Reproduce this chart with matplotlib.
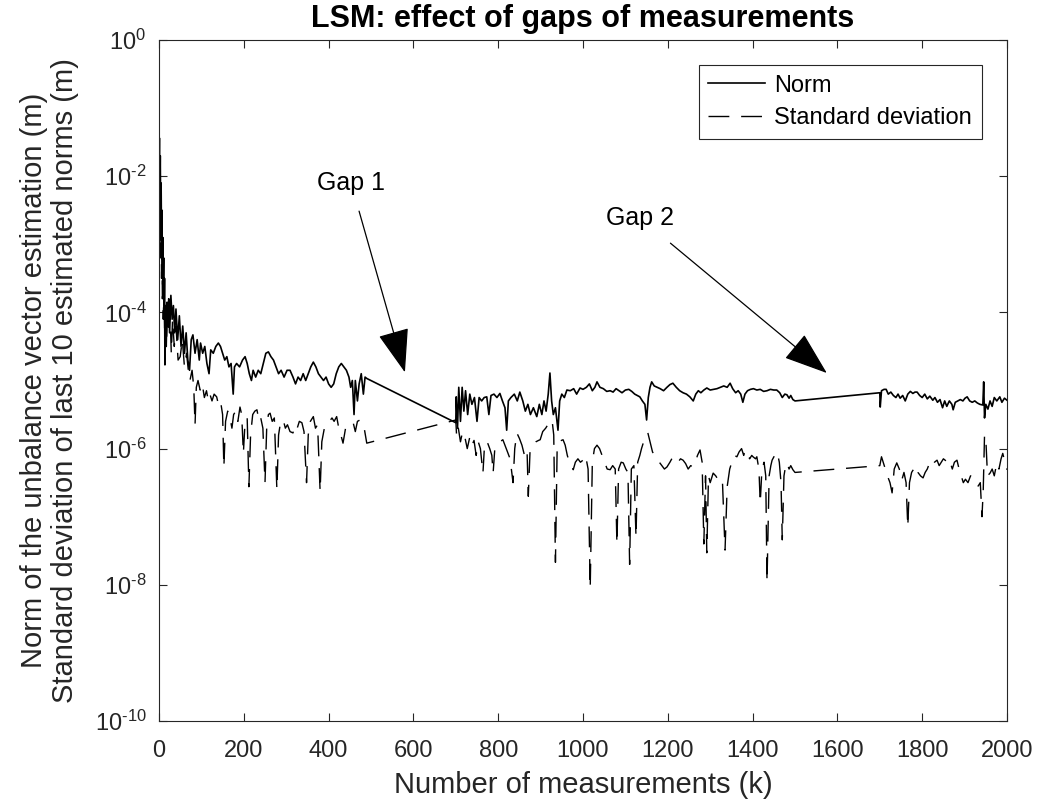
import numpy as np
import matplotlib
matplotlib.use("Agg")
import matplotlib.pyplot as plt

plt.rcParams['font.family'] = ['Liberation Sans', 'DejaVu Sans']
plt.rcParams['mathtext.fontset'] = 'custom'
plt.rcParams['mathtext.rm'] = 'Liberation Sans'
plt.rcParams['mathtext.it'] = 'Liberation Sans:italic'
plt.rcParams['mathtext.bf'] = 'Liberation Sans:bold'

###Norm of the estimated unbalance vector (log10 of metres)
norm_k = [0, 1, 2, 3, 4, 5, 6, 7, 8, 9, 10, 11, 12, 13, 14, 15, 17, 19, 21, 23, 25, 28, 31, 34, 37, 40,
          44, 48, 52, 56, 60, 64, 68, 72, 76, 80, 85, 90, 95, 98, 103, 108, 113, 118, 122, 128, 134, 140,
          145, 150, 155, 160, 165, 170, 175, 178, 183, 190, 197, 203, 208, 213, 218, 222, 228, 234, 240,
          246, 252, 258, 264, 270, 276, 282, 288, 295, 302, 309, 316, 322, 328, 334, 340, 346, 352, 358,
          364, 370, 376, 382, 388, 394, 400, 406, 412, 418, 424, 430, 436, 442, 448, 452, 456, 460, 463,
          468, 472, 477, 482, 486, 490,
          700, 701, 704, 707, 711, 715, 719, 723, 728, 733, 738, 744, 750, 755, 761, 767, 773, 778, 783,
          790, 797, 804, 810, 816, 820, 824, 830, 838, 845, 851, 858, 864, 870, 876, 883, 891, 897, 903,
          908, 913, 918, 922, 926, 930, 935, 941, 945, 950, 956, 962, 970, 978, 985, 993, 1000, 1008,
          1015, 1022, 1028, 1033, 1040, 1048, 1056, 1064, 1071, 1078, 1085, 1092, 1100, 1108, 1115, 1122,
          1128, 1134, 1140, 1146, 1150, 1154, 1158, 1162, 1168, 1175, 1182, 1190, 1198, 1205, 1212, 1220,
          1228, 1236, 1244, 1252, 1260, 1266, 1272, 1278, 1285, 1292, 1300, 1308, 1316, 1324, 1332, 1340,
          1347, 1353, 1360, 1366, 1372, 1377, 1382, 1388, 1395, 1402, 1410, 1418, 1426, 1434, 1442, 1450,
          1457, 1464, 1470, 1476, 1481, 1486, 1490, 1495, 1500,
          1700, 1701, 1704, 1710, 1715, 1720, 1726, 1732, 1738, 1743, 1748, 1754, 1760, 1766, 1772, 1778,
          1783, 1788, 1794, 1800, 1806, 1812, 1818, 1825, 1830, 1836, 1842, 1848, 1853, 1858, 1864, 1870,
          1873, 1878, 1884, 1890, 1896, 1901, 1906, 1912, 1918, 1924, 1930, 1936, 1943, 1945, 1947, 1950,
          1955, 1960, 1965, 1970, 1976, 1983, 1988, 1994, 2000]
norm_exp = [-2.0, -1.44, -2.3, -1.7, -2.6, -2.1, -3.0, -2.5, -3.4, -2.9, -3.6, -3.2, -4.1, -3.5, -4.77, -3.9,
            -4.5, -3.85, -4.2, -3.8, -4.3, -3.75, -4.1, -3.9, -4.3, -3.95,
            -4.4, -4.05, -4.5, -4.2, -4.6, -4.3, -4.7, -4.85, -4.4, -4.33, -4.6, -4.4, -4.7, -4.45, -4.6,
            -4.5, -4.75, -4.9, -4.55, -4.6, -4.5, -4.45,
            -4.5, -4.6, -4.7, -4.65, -4.8, -4.75, -5.2, -4.8, -4.75, -4.8, -4.7, -4.65, -4.75, -4.9, -5.0,
            -4.85, -4.95, -4.85, -4.9,
            -4.75, -4.6, -4.58, -4.65, -4.7, -4.8, -4.9, -4.85, -4.95, -4.85, -4.85, -4.95, -5.05, -4.95,
            -5.0, -4.9, -5.0, -4.9, -4.8,
            -4.73, -4.8, -4.9, -4.95, -5.0, -4.95, -5.05, -5.1, -5.05, -4.9, -4.8, -4.75, -4.8, -4.85,
            -4.95, -5.1, -5.0, -5.5, -5.0,
            -5.3, -5.05, -4.9, -5.2, -4.95, -4.97,
            -5.62, -5.24, -5.7, -5.1, -5.6, -5.1, -5.45, -5.15, -5.5, -5.2, -5.35, -5.25, -5.6, -5.25, -5.3,
            -5.25, -5.24, -5.5, -5.22,
            -5.2, -5.25, -5.19, -5.3, -5.4, -5.73, -5.3, -5.25, -5.2, -5.3, -5.17, -5.3, -5.45, -5.35, -5.5,
            -5.4, -5.53, -5.35, -5.5,
            -5.3, -5.45, -5.2, -4.89, -5.3, -5.5, -5.4, -5.73, -5.3, -5.2, -5.25, -5.14, -5.15, -5.12, -5.2,
            -5.11, -5.13, -5.1,
            -5.05, -5.15, -5.1, -5.02, -5.1, -5.12, -5.16, -5.15, -5.17, -5.12, -5.15, -5.18, -5.14, -5.13,
            -5.16, -5.2,
            -5.22, -5.24, -5.3, -5.35, -5.58, -5.25, -5.1, -5.02, -5.08, -5.1, -5.12, -5.15, -5.1, -5.06,
            -5.04, -5.1,
            -5.15, -5.18, -5.2, -5.24, -5.3, -5.2, -5.15, -5.18, -5.14, -5.11, -5.14, -5.13, -5.12, -5.1,
            -5.08, -5.1,
            -5.04, -5.12, -5.18, -5.15, -5.2, -5.32, -5.2, -5.15, -5.13, -5.12, -5.14, -5.13, -5.16, -5.15,
            -5.13, -5.14,
            -5.14, -5.18, -5.25, -5.2, -5.21, -5.26, -5.22, -5.28, -5.30,
            -5.18, -5.39, -5.15, -5.13, -5.13, -5.2, -5.17, -5.22, -5.25, -5.2, -5.26, -5.22, -5.3, -5.2,
            -5.16, -5.19,
            -5.17, -5.17, -5.22, -5.25, -5.2, -5.27, -5.23, -5.29, -5.25, -5.32, -5.28, -5.4, -5.3, -5.38,
            -5.3, -5.35,
            -5.43, -5.32, -5.3, -5.28, -5.3, -5.26, -5.24, -5.3, -5.32, -5.3, -5.33, -5.35, -5.36, -5.02,
            -5.55, -5.35,
            -5.42, -5.3, -5.38, -5.25, -5.3, -5.24, -5.32, -5.26, -5.29]

###Standard deviation of the last 10 norms (log10 of metres)
std_k = [0, 1, 2, 3, 4, 5, 6, 7, 8, 9, 10, 12, 14, 16, 18, 20, 23, 26, 29, 32, 36, 40, 45, 50, 55, 60, 65,
         70, 73, 78, 82, 85, 88, 92, 97, 102, 107, 112, 116, 120, 125, 130, 136, 140, 145, 150, 153, 157,
         162, 167, 172, 176, 181, 186, 191, 195, 199, 203, 208, 212, 216, 221, 226, 231, 236, 240, 245,
         250, 254, 258, 262, 267, 272, 278, 282, 287, 293, 298, 303, 309, 316, 321, 326, 331, 337, 342,
         348, 352, 357, 364, 369, 374, 380, 384, 390, 396, 402, 408, 413, 419, 424, 429, 434, 440, 446,
         452, 458, 463, 468, 474, 479, 484, 490,
         700, 702, 706, 711, 716, 722, 727, 733, 738, 743, 748, 753, 758, 764, 768, 774, 780, 785, 788,
         792, 798, 804, 811, 816, 822, 828, 835, 839, 844, 850, 856, 862, 868, 871, 875, 882, 889, 895,
         899, 905, 912, 920, 927, 931, 935, 939, 944, 949, 953, 958, 963, 968, 973, 977, 982, 988, 994,
         1000, 1006, 1012, 1017, 1022, 1027, 1033, 1039, 1045, 1051, 1057, 1064, 1070, 1076, 1080, 1084,
         1090, 1095, 1101, 1106, 1110, 1114, 1120, 1125, 1129, 1134, 1138, 1142, 1148, 1153, 1158, 1164,
         1169, 1174, 1180, 1186, 1192, 1198, 1205, 1212, 1218, 1224, 1230, 1236, 1242, 1248, 1254, 1259,
         1265, 1270, 1276, 1281, 1285, 1289, 1292, 1296, 1300, 1307, 1313, 1318, 1323, 1329, 1335, 1340,
         1346, 1351, 1357, 1363, 1368, 1374, 1379, 1382, 1387, 1393, 1398, 1401, 1407, 1410, 1415, 1418,
         1422, 1427, 1431, 1434, 1439, 1443, 1446, 1452, 1458, 1463, 1467, 1470, 1474, 1478, 1481, 1486,
         1490, 1495, 1500,
         1700, 1704, 1708, 1713, 1718, 1724, 1729, 1734, 1740, 1746, 1752, 1757, 1762, 1766, 1770, 1775,
         1779, 1785, 1790, 1796, 1802, 1807, 1812, 1818, 1823, 1829, 1835, 1840, 1845, 1850, 1856, 1861,
         1866, 1871, 1876, 1882, 1887, 1892, 1897, 1902, 1908, 1914, 1920, 1926, 1932, 1937, 1941, 1944,
         1947, 1950, 1954, 1960, 1965, 1970, 1976, 1981, 1986, 1990, 1995, 2000]
std_exp = [-2.5, -1.9, -2.8, -2.2, -3.2, -2.4, -3.5, -2.9, -3.8, -3.3, -4.1, -3.6, -4.7, -4.0, -4.4, -3.9,
           -4.3, -4.0, -4.6, -4.1, -4.5, -4.2, -4.7, -4.65, -4.4, -4.8, -4.6,
           -4.9, -5.0, -4.85, -5.1, -5.65, -5.1, -5.0, -5.14, -5.05, -5.25, -5.15, -5.29, -5.2, -5.3, -5.2,
           -5.24, -5.35, -5.3, -5.5, -6.27, -5.6,
           -5.45, -5.53, -5.7, -5.5, -5.45, -5.6, -5.39, -5.5, -6.07, -5.6, -5.55, -6.56, -5.8, -5.5, -5.45,
           -5.43, -5.6, -5.55, -5.7,
           -6.5, -5.7, -5.5, -5.48, -5.6, -5.55, -6.6, -5.8, -5.6, -5.58, -5.7, -5.65, -5.75, -5.77, -5.65,
           -5.7, -5.6, -5.62, -5.75,
           -6.5, -5.8, -5.6, -5.53, -5.7, -5.65, -6.63, -5.9, -5.7, -5.68, -5.6, -5.55, -5.6, -5.53, -5.7,
           -5.8, -5.92, -5.7, -5.65,
           -5.62, -5.62, -5.75, -5.6, -5.58, -5.65, -5.7, -5.92,
           -5.58, -5.83, -5.7, -5.9, -5.75, -5.85, -6.0, -5.83, -5.95, -5.88, -6.1, -5.9, -6.0, -6.36, -5.92,
           -5.9, -6.0, -6.1, -6.36,
           -6.0, -5.95, -5.9, -5.87, -5.95, -6.05, -6.15, -6.5, -6.0, -5.77, -5.85, -5.95, -6.1, -6.02, -6.7,
           -6.05, -5.95, -5.9, -5.88,
           -5.87, -5.75, -5.7, -5.62, -5.58, -5.8, -7.67, -6.0, -5.9, -5.88, -5.87, -5.95, -6.1, -6.2, -6.25,
           -6.31, -6.2, -6.15, -6.2,
           -6.17, -6.1, -6.3, -8.05, -6.2, -6.0, -5.95, -6.0, -6.1, -6.2, -6.3, -6.31, -6.25, -6.3, -7.4,
           -6.3,
           -6.2, -6.21, -6.3, -6.35, -7.7, -6.3, -6.25, -7.3, -6.2, -6.1, -6.0, -5.92, -5.8, -5.77, -5.9,
           -6.05,
           -6.1, -6.17, -6.2, -6.25, -6.3, -6.27, -6.2, -6.12, -6.15, -6.2, -6.15, -6.17, -6.22, -6.3, -6.25,
           -6.27,
           -6.2, -6.1, -6.02, -6.2, -7.4, -6.4, -7.53, -6.4, -6.5, -6.36, -6.4, -6.45, -6.42, -6.5, -7.49,
           -6.56,
           -6.3, -6.2, -6.1, -6.12, -6.05, -6.0, -6.1, -6.02, -6.07, -6.15, -6.1, -6.12, -6.15, -6.12, -6.31,
           -6.8,
           -6.3, -6.2, -6.4, -7.96, -6.4, -6.25, -6.17, -6.1, -6.05, -6.2, -6.5, -7.34, -6.4, -6.25, -6.21,
           -6.3,
           -6.25, -6.31, -6.35,
           -6.25, -6.12, -6.2, -6.3, -6.4, -6.5, -6.65, -6.3, -6.21, -6.3, -6.46, -6.35, -6.5, -7.15, -6.5,
           -6.35,
           -6.31, -6.25, -6.35, -6.4, -6.43, -6.35, -6.3, -6.2, -6.25, -6.2, -6.17, -6.25, -6.2, -6.15,
           -6.18, -6.14,
           -6.2, -6.3, -6.2, -6.17, -6.3, -6.4, -6.5, -6.45, -6.5, -6.4, -6.42, -6.5, -6.55, -6.5, -7.0,
           -6.6,
           -5.8, -5.85, -6.4, -6.36, -6.3, -6.4, -6.21, -6.3, -6.15, -6.07, -6.2, -6.31]

ytick_exp = [0, -2, -4, -6, -8, -10]
xtick_vals = list(range(0, 2001, 200))


def exp_label(e):
    ###MATLAB prints a plain hyphen in the exponent
    sign = '\u2010' if e < 0 else ''
    return r'$\mathregular{10^{%s%d}}$' % (sign, abs(e))


###Figure
fig = plt.figure(figsize=(10.41, 8.09), dpi=100)
ax = fig.add_axes([159 / 1041, 1 - 721 / 809, 848 / 1041, 681 / 809])

axcol = (0.15, 0.15, 0.15)
ax.plot(norm_k, 10.0 ** np.array(norm_exp), color='k', lw=1.2, label='Norm')
ax.plot(std_k, 10.0 ** np.array(std_exp), color='k', lw=1.0, linestyle=(0, (15, 8.5)),
        label='Standard deviation')

ax.set_yscale('log')
ax.set_xlim(0, 2000)
ax.set_ylim(1e-10, 1e0)
ax.set_xticks(xtick_vals)
ax.set_xticklabels([str(v) for v in xtick_vals])
ax.set_yticks([10.0 ** e for e in ytick_exp])
ax.set_yticklabels([exp_label(e) for e in ytick_exp])
ax.minorticks_off()
ax.tick_params(direction='in', length=6, width=0.8, top=True, right=True, labelsize=17,
               colors=axcol)
ax.tick_params(axis='x', pad=14)
ax.tick_params(axis='y', pad=9)
for s in ax.spines.values():
    s.set_color(axcol)
    s.set_linewidth(0.8)

ax.set_title('LSM: effect of gaps of measurements', fontsize=22, fontweight='bold', pad=9)
ax.set_xlabel('Number of measurements (k)', fontsize=21, color=axcol, labelpad=6)
ax.set_ylabel('Norm of the unbalance vector estimation (m)\n'
              'Standard deviation of last 10 estimated norms (m)',
              fontsize=21, color=axcol, linespacing=1.15, labelpad=11)

###Gap annotations
ax.annotate('Gap 1', xy=(580, 10 ** -4.88), xytext=(453, 10 ** -2.1), fontsize=18,
            ha='center', va='center',
            arrowprops=dict(arrowstyle='-|>,head_length=1.4,head_width=0.5', color='k', lw=0.9,
                            mutation_scale=20, shrinkA=10, shrinkB=0))
ax.annotate('Gap 2', xy=(1575, 10 ** -4.89), xytext=(1134, 10 ** -2.61), fontsize=18,
            ha='center', va='center',
            arrowprops=dict(arrowstyle='-|>,head_length=1.4,head_width=0.5', color='k', lw=0.9,
                            mutation_scale=20, shrinkA=12, shrinkB=0))

leg = ax.legend(loc='upper right', bbox_to_anchor=(0.970, 0.963), borderaxespad=0, fontsize=17,
                handlelength=2.4, handletextpad=0.4, fancybox=False, framealpha=1,
                borderpad=0.4, labelspacing=0.45)
leg.get_frame().set_edgecolor(axcol)
leg.get_frame().set_linewidth(0.8)

fig.savefig('out.png', dpi=100)
